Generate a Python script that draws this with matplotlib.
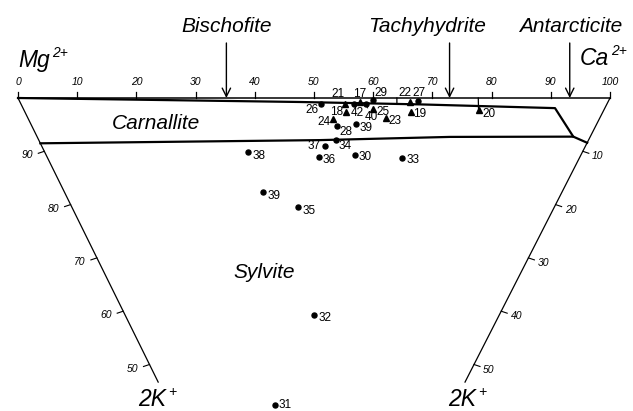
import numpy as np
import matplotlib.pyplot as plt

plt.rcParams['font.family'] = ['Liberation Sans', 'DejaVu Sans']

# brine compositions: Ca2+ (top scale, %) and 2K+ (%)
circle_ids = ['26', '42', '40', '29', '27', '28', '39', '34', '37', '36',
              '30', '33', '38', '39', '35', '32', '31']
circle_ca = [50.6, 56.2, 58.2, 59.8, 67.3, 51.2, 54.6, 49.9, 47.4, 45.5,
             51.5, 59.2, 33.9, 32.9, 37.2, 29.9, 15.8]
circle_k = [1.2, 1.1, 1.1, 0.4, 0.6, 5.3, 4.9, 7.8, 9.0, 11.0,
            10.7, 11.2, 10.2, 17.7, 20.5, 40.7, 57.6]

triangle_ids = ['21', '17', '25', '23', '22', '19', '18', '24', '20']
triangle_ca = [54.7, 57.4, 58.9, 60.2, 65.8, 65.0, 54.1, 51.2, 76.6]
triangle_k = [1.1, 0.7, 2.0, 3.8, 0.8, 2.6, 2.6, 3.9, 2.3]

# carnallite field boundaries
upper_ca = [0.0, 47.3, 67.3, 89.7, 89.9]
upper_k = [0.0, 0.75, 1.2, 1.9, 7.25]
lower_ca = [0.0, 47.1, 69.2, 89.9, 91.6]
lower_k = [8.5, 7.9, 7.3, 7.25, 8.4]

# saturation points of the chloride minerals on the Mg-Ca side
minerals = ['Bischofite', 'Tachyhydrite', 'Antarcticite']
mineral_ca = [35.2, 72.9, 93.2]

# tie lines: (Ca at top, Ca at end, 2K at end)
tie_lines = [(77.75, 76.6, 2.3), (64.0, 63.4, 1.2)]

top_ticks = np.arange(0, 101, 10)
side_ticks = np.arange(10, 51, 10)

# label offsets in pixels (right, down)
circle_offsets = [(-9, 6), (3, 9), (6, 13), (8, -7), (1, -8), (9, 6), (10, 4),
                  (9, 6), (-11, 0), (10, 3), (11, 2), (11, 2), (11, 4),
                  (11, 4), (11, 4), (11, 3), (10, 0)]
triangle_offsets = [(-7, -10), (0, -8), (10, 3), (9, 3), (-5, -9), (9, 2),
                    (-9, 0), (-9, 3), (10, 4)]
leader = {'40', '21'}

X0, X1, Y0 = 18.0, 610.0, 98.0
LEFT_DX, RIGHT_DX, DY = 2.63, 2.72, 5.33
K_END = 53.3


def tern(ca, k):
    ca = np.asarray(ca, float)
    k = np.asarray(k, float)
    x_left = X0 + LEFT_DX * k
    x_right = X1 - RIGHT_DX * k
    x = x_left + (x_right - x_left) * ca / (100.0 - k)
    y = Y0 + DY * k
    return x, y


fig = plt.figure(figsize=(6.33, 4.11), dpi=100)
ax = fig.add_axes([0, 0, 1, 1])
ax.set_xlim(0, 633)
ax.set_ylim(411, 0)
ax.axis('off')

# frame
x, y = tern([0, 100], [0, 0])
ax.plot(x, y, color='k', lw=1.1)
x, y = tern([0, 0], [0, K_END])
ax.plot(x, y, color='k', lw=0.9)
x, y = tern([100, 100 - K_END], [0, K_END])
ax.plot(x, y, color='k', lw=0.9)

for t in top_ticks:
    x, y = tern(t, 0)
    ax.plot([x, x], [y, y - 6], color='k', lw=0.9)
    ax.text(x, y - 16, str(t), ha='center', va='center', fontsize=7.5,
            style='italic')

for t in side_ticks:
    x, y = tern(0, t)
    ax.plot([x, x - 6], [y, y + 2], color='k', lw=0.8)
    ax.text(x - 17, y + 4, str(100 - t), ha='center', va='center',
            fontsize=7.5, style='italic')
    x, y = tern(100 - t, t)
    ax.plot([x, x + 6], [y, y + 2], color='k', lw=0.8)
    ax.text(x + 15, y + 5, str(t), ha='center', va='center',
            fontsize=7.5, style='italic')

# carnallite field
ax.plot(*tern(upper_ca, upper_k), color='k', lw=1.6, solid_joinstyle='round')
ax.plot(*tern(lower_ca, lower_k), color='k', lw=1.6, solid_joinstyle='round')

for ca_top, ca_end, k_end in tie_lines:
    x0, y0 = tern(ca_top, 0)
    x1, y1 = tern(ca_end, k_end)
    ax.plot([x0, x1], [y0, y1], color='k', lw=0.9)

# mineral arrows
for name, ca in zip(minerals, mineral_ca):
    x, y = tern(ca, 0)
    ax.annotate('', xy=(x, y), xytext=(x, 43),
                arrowprops=dict(arrowstyle='->,head_length=0.6,head_width=0.3',
                                lw=1.0, color='k', shrinkA=0, shrinkB=0))
tx = {'Bischofite': 0, 'Tachyhydrite': -23, 'Antarcticite': 1}
for name, ca in zip(minerals, mineral_ca):
    x, y = tern(ca, 0)
    ax.text(x + tx[name], 32, name, ha='center', va='baseline', fontsize=15,
            style='italic')

# samples
x, y = tern(circle_ca, circle_k)
ax.plot(x, y, 'o', color='k', ms=3.6)
for i, lab in enumerate(circle_ids):
    dx, dy = circle_offsets[i]
    ax.annotate(lab, xy=(x[i], y[i]), xytext=(dx, -dy),
                textcoords='offset pixels', ha='center', va='center',
                fontsize=8.5,
                arrowprops=dict(arrowstyle='-', lw=0.6, shrinkA=4, shrinkB=2)
                if lab in leader else None)

x, y = tern(triangle_ca, triangle_k)
ax.plot(x, y, '^', color='k', ms=4.5)
for i, lab in enumerate(triangle_ids):
    dx, dy = triangle_offsets[i]
    ax.annotate(lab, xy=(x[i], y[i]), xytext=(dx, -dy),
                textcoords='offset pixels', ha='center', va='center',
                fontsize=8.5,
                arrowprops=dict(arrowstyle='-', lw=0.6, shrinkA=4, shrinkB=2)
                if lab in leader else None)

# field and corner names
ax.text(156, 123, 'Carnallite', ha='center', va='center', fontsize=15,
        style='italic')
ax.text(264, 272, 'Sylvite', ha='center', va='center', fontsize=15,
        style='italic')

ax.text(18, 67, 'Mg', ha='left', va='baseline', fontsize=16.5, style='italic')
ax.text(52, 57, '2+', ha='left', va='baseline', fontsize=10, style='italic')
ax.text(580, 65, 'Ca', ha='left', va='baseline', fontsize=16.5, style='italic')
ax.text(611, 55, '2+', ha='left', va='baseline', fontsize=10, style='italic')
ax.text(138, 406, '2K', ha='left', va='baseline', fontsize=16.5, style='italic')
ax.text(168, 396, '+', ha='left', va='baseline', fontsize=10, style='italic')
ax.text(448, 406, '2K', ha='left', va='baseline', fontsize=16.5, style='italic')
ax.text(478, 396, '+', ha='left', va='baseline', fontsize=10, style='italic')

fig.savefig('out.png', dpi=100)
